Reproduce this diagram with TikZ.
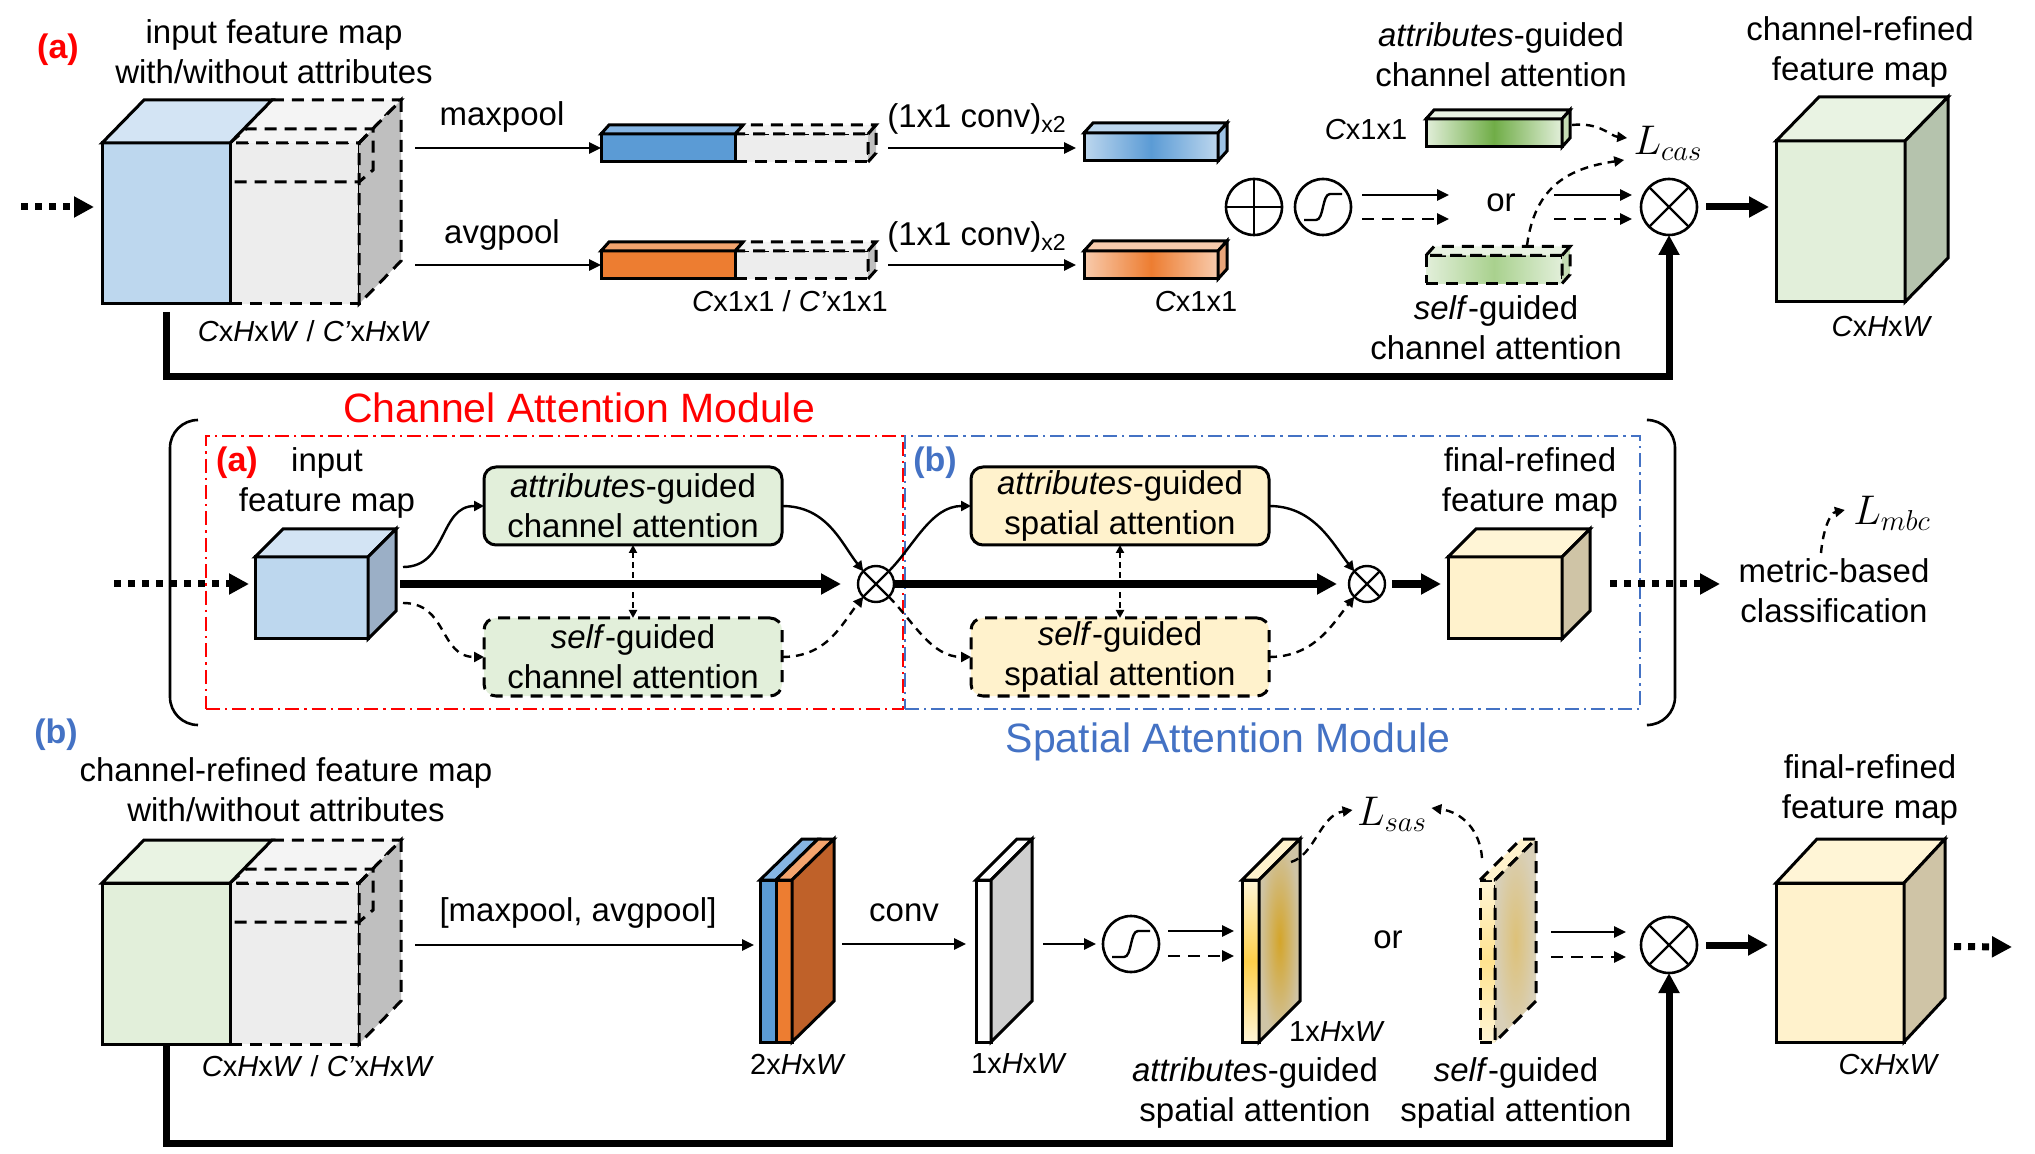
\documentclass[tikz,border=0pt]{standalone}
\usepackage{fontspec}
\setmainfont{Liberation Sans}
\usetikzlibrary{arrows.meta,calc}

\definecolor{cubeblue}{HTML}{BDD7EE}
\definecolor{cubebluetop}{HTML}{D3E4F4}
\definecolor{cubeblueside}{HTML}{9BAFC6}
\definecolor{greyfront}{HTML}{EDEDED}
\definecolor{greytop}{HTML}{F4F4F4}
\definecolor{greyside}{HTML}{BFBFBF}
\definecolor{poolblue}{HTML}{5B9BD5}
\definecolor{poolbluetop}{HTML}{86B5E3}
\definecolor{poolorange}{HTML}{ED7D31}
\definecolor{poolorangetop}{HTML}{F4A46E}
\definecolor{attblue}{HTML}{BDD7EE}
\definecolor{attblueside}{HTML}{9DC3E6}
\definecolor{attorange}{HTML}{F8CBAD}
\definecolor{attorangeside}{HTML}{E9A57A}
\definecolor{slabside}{HTML}{BF6129}
\definecolor{greenfront}{HTML}{E2EFDA}
\definecolor{greentop}{HTML}{E9F3E3}
\definecolor{greenside}{HTML}{B5C3AD}
\definecolor{greenbarside}{HTML}{C5DDB4}
\definecolor{greendeep}{HTML}{70AD47}
\definecolor{greenmid}{HTML}{A9D18E}
\definecolor{yellowfront}{HTML}{FFF2CC}
\definecolor{yellowtop}{HTML}{FFF5D6}
\definecolor{yellowside}{HTML}{CFC4A6}
\definecolor{golddeep}{HTML}{D4A52A}
\definecolor{goldpale}{HTML}{DDC178}
\definecolor{yellowdeep}{HTML}{FFD04A}
\definecolor{yellowmid}{HTML}{FFE38F}
\definecolor{modred}{HTML}{FF0000}
\definecolor{modblue}{HTML}{4472C4}

% top and side faces of a box whose front face is the node #1
\newcommand{\topface}[4]{\draw[#4] (#1.north west) -- ++(#2,#3) -- ($(#1.north east)+(#2,#3)$) -- (#1.north east) -- cycle;}
\newcommand{\sideface}[4]{\draw[#4] (#1.north east) -- ++(#2,#3) -- ($(#1.south east)+(#2,#3)$) -- (#1.south east) -- cycle;}
% sigmoid operator
\newcommand{\sigmoidop}[2]{%
  \node[opcirc] (#1) at (#2) {};
  \draw[line width=1.2pt] ($(#1)+(-19,13)$) -- ($(#1)+(-7,13)$)
    .. controls ($(#1)+(1,13)$) and ($(#1)+(-1,-13)$) .. ($(#1)+(7,-13)$) -- ($(#1)+(19,-13)$);}
% product operator
\newcommand{\crossop}[1]{\draw[line width=1.2pt] (#1.north west) -- (#1.south east) (#1.north east) -- (#1.south west);}

\tikzset{
  blk/.style={draw=black, line width=1.5pt, inner sep=0pt, outer sep=0pt},
  dsh/.style={dash pattern=on 6pt off 4pt},
  dshs/.style={dash pattern=on 4pt off 3pt},
  txt/.style={font=\fontsize{16.5}{20}\selectfont, align=center, inner sep=0pt},
  losstxt/.style={font=\fontsize{20}{24}\selectfont, inner sep=0pt},
  dimtxt/.style={font=\fontsize{14.5}{17}\selectfont, inner sep=0pt},
  tag/.style={font=\bfseries\fontsize{17}{20}\selectfont, inner sep=0pt},
  modtitle/.style={font=\fontsize{20.5}{24}\selectfont, inner sep=0pt},
  opcirc/.style={circle, draw=black, line width=1.3pt, minimum size=28pt, inner sep=0pt, outer sep=0pt, fill=white},
  smallop/.style={opcirc, minimum size=18pt, line width=1.2pt},
  attbox/.style={blk, rounded corners=6pt, minimum width=149pt, minimum height=39pt, align=center, font=\fontsize{16.5}{20}\selectfont},
  modframe/.style={line width=1.1pt, inner sep=0pt, dash pattern=on 7pt off 2.5pt on 1.2pt off 2.5pt, minimum height=136.5pt},
  thinarr/.style={line width=1.3pt, -{Triangle[length=6pt,width=5.5pt]}},
  curvarr/.style={line width=1.2pt, -{Triangle[length=5pt,width=5pt]}},
  duoarr/.style={line width=1pt, dash pattern=on 3pt off 2pt, {Triangle[length=4pt,width=4pt]}-{Triangle[length=4pt,width=4pt]}},
  thickarr/.style={line width=3.5pt, -{Triangle[length=10pt,width=10pt]}},
  dotarr/.style={line width=3.5pt, dash pattern=on 3.5pt off 3.5pt, -{Triangle[length=10pt,width=10pt]}},
}

\begin{document}
\begin{tikzpicture}[x=0.5pt, y=-0.5pt]
\useasboundingbox (0,0) rectangle (2035,1154);

%%% (a) channel attention module
\node[tag, text=modred] (tagCa) at (58,50) {(a)};
\node[txt] (inCaption) at (274,52) {input feature map\\with/without attributes};
\node[blk, dsh, fill=greyfront, minimum width=64.5pt, minimum height=80.5pt] (inExtra) at (294.5,223.5) {};
\topface{inExtra}{42}{-43}{blk, dsh, fill=greytop}
\sideface{inExtra}{42}{-43}{blk, dsh, fill=greyside}
\draw[blk, dsh] (inExtra.north west) -- ++(16,-14) -- ++(127,0) -- ++(0,41) -- ++(-14,12) -- ++(-129,0);
\draw[blk, dsh] (inExtra.north east) -- ++(14,-14);
\node[blk, fill=cubeblue, minimum width=64pt, minimum height=80.5pt] (inMap) at (166,223.5) {};
\topface{inMap}{42}{-43}{blk, fill=cubebluetop}
\node[dimtxt] (inDim) at (314,331) {\textit{C}x\textit{H}x\textit{W} / \textit{C’}x\textit{H}x\textit{W}};
\coordinate (inFrom) at (21,207);
\draw[dotarr, shorten >=4pt] (inFrom) -- (inMap.west |- inFrom);

% pooled vectors
\node[blk, dsh, fill=greyfront, minimum width=66.5pt, minimum height=14pt] (maxExtra) at (801.5,148) {};
\topface{maxExtra}{8}{-9}{blk, dsh, fill=greytop}
\sideface{maxExtra}{8}{-9}{blk, dsh, fill=greyside}
\node[blk, fill=poolblue, minimum width=67pt, minimum height=14pt, anchor=east] (maxBar) at (maxExtra.west) {};
\topface{maxBar}{8}{-9}{blk, fill=poolbluetop}
\node[blk, dsh, fill=greyfront, minimum width=66.5pt, minimum height=14pt] (avgExtra) at (801.5,265) {};
\topface{avgExtra}{8}{-9}{blk, dsh, fill=greytop}
\sideface{avgExtra}{8}{-9}{blk, dsh, fill=greyside}
\node[blk, fill=poolorange, minimum width=67pt, minimum height=14pt, anchor=east] (avgBar) at (avgExtra.west) {};
\topface{avgBar}{8}{-9}{blk, fill=poolorangetop}
\node[dimtxt] (poolDim) at (790,301) {\textit{C}x1x1 / \textit{C’}x1x1};

\coordinate (maxFrom) at (415,148);
\coordinate (avgFrom) at (415,265);
\draw[thinarr] (maxFrom) -- (maxBar.west);
\draw[thinarr] (avgFrom) -- (avgBar.west);
\node[txt] (maxLbl) at (502,117) {maxpool};
\node[txt] (avgLbl) at (502,235) {avgpool};

% shared 1x1 conv
\node[blk, left color=attblue, right color=attblue, middle color=poolblue, minimum width=67pt, minimum height=14pt] (maxAtt) at (1151,147) {};
\topface{maxAtt}{9}{-10}{blk, fill=attblue}
\sideface{maxAtt}{9}{-10}{blk, fill=attblueside}
\node[blk, left color=attorange, right color=attorange, middle color=poolorange, minimum width=67pt, minimum height=14pt] (avgAtt) at (1151,265) {};
\topface{avgAtt}{9}{-10}{blk, fill=attorange}
\sideface{avgAtt}{9}{-10}{blk, fill=attorangeside}
\node[dimtxt] (attDim) at (1196,302) {\textit{C}x1x1};
\coordinate (convFromA) at (888,148);
\coordinate (convFromB) at (888,265);
\draw[thinarr, shorten >=4pt] (convFromA) -- (maxAtt.west |- convFromA);
\draw[thinarr, shorten >=4pt] (convFromB) -- (avgAtt.west |- convFromB);
\node[txt] (convLblA) at (977,119) {(1x1 conv)\textsubscript{x2}};
\node[txt] (convLblB) at (977,237) {(1x1 conv)\textsubscript{x2}};

% sum, sigmoid, product
\node[opcirc] (sumOp) at (1254,207) {};
\draw[line width=1.2pt] (sumOp.north) -- (sumOp.south) (sumOp.west) -- (sumOp.east);
\sigmoidop{sigCa}{1323,207}
\node[opcirc] (mulCa) at (1669,207) {};
\crossop{mulCa}
\coordinate (orInA) at (1449,195);
\coordinate (orInB) at (1449,219);
\coordinate (orOutA) at (1554,195);
\coordinate (orOutB) at (1554,219);
\draw[thinarr] ([shift={(11,-12)}]sigCa.east) -- (orInA);
\draw[thinarr, dsh] ([shift={(11,12)}]sigCa.east) -- (orInB);
\draw[thinarr] (orOutA) -- ([shift={(-9,-12)}]mulCa.west);
\draw[thinarr, dsh] (orOutB) -- ([shift={(-9,12)}]mulCa.west);
\node[txt] (orCa) at (1501,203) {or};

% channel attention vectors
\node[txt] (attCaLbl) at (1501,55) {\textit{attributes}-guided\\channel attention};
\node[dimtxt] (attCaDim) at (1366,130) {\textit{C}x1x1};
\node[blk, left color=greenfront, right color=greenfront, middle color=greendeep, minimum width=68pt, minimum height=14pt] (attCa) at (1494,133) {};
\topface{attCa}{8}{-9}{blk, fill=greentop}
\sideface{attCa}{8}{-9}{blk, fill=greenbarside}
\node[blk, dsh, left color=greenfront, right color=greenfront, middle color=greenmid, minimum width=68pt, minimum height=14pt] (selfCa) at (1494,269.5) {};
\topface{selfCa}{8}{-9}{blk, dsh, fill=greentop}
\sideface{selfCa}{8}{-9}{blk, dsh, fill=greenbarside}
\node[txt] (selfCaLbl) at (1496,328) {\textit{self}-guided\\channel attention};
\node[losstxt] (lcas) at (1668,143) {$L_{cas}$};
\draw[curvarr, dshs] ([shift={(10,-8)}]attCa.east) .. controls (1600,122) and (1610,136) .. ([shift={(-6,-5)}]lcas.west);
\draw[curvarr, dshs] ([shift={(33,-10)}]selfCa.north) .. controls (1535,185) and (1570,168) .. ([shift={(-9,17)}]lcas.west);

% channel-refined map
\node[txt] (chCaption) at (1860,52) {channel-refined\\feature map};
\node[blk, fill=greenfront, minimum width=64.5pt, minimum height=80.5pt] (chMap) at (1840.5,221.5) {};
\topface{chMap}{43}{-44}{blk, fill=greentop}
\sideface{chMap}{43}{-44}{blk, fill=greenside}
\node[dimtxt] (chDim) at (1882,327) {\textit{C}x\textit{H}x\textit{W}};
\draw[thickarr, shorten <=4.5pt, shorten >=3.5pt] (mulCa.east) -- (chMap.west |- mulCa);
\draw[thickarr, shorten <=4pt] (inMap.south) -- ++(0,73) -| (mulCa.south);

%%% overview
\node[modtitle, text=modred] (caTitle) at (579,408) {Channel Attention Module};
\node[modtitle, text=modblue] (saTitle) at (1228,742) {Spatial Attention Module};
\node[modframe, draw=modred, minimum width=348.5pt] (caFrame) at (554.5,572.5) {};
\node[modframe, draw=modblue, minimum width=367.5pt] (saFrame) at (1272.5,572.5) {};
\draw[line width=1.3pt, rounded corners=14pt] (198,420) -- (170,420) -- (170,725) -- (198,725);
\draw[line width=1.3pt, rounded corners=14pt] (1649,420) -- (1675,420) -- (1675,725) -- (1649,725);

\node[tag, text=modred] (tagCaMid) at (237,463) {(a)};
\node[txt] (midCaption) at (327,483) {input\\feature map};
\node[blk, fill=cubeblue, minimum width=56.5pt, minimum height=41pt] (midIn) at (311.5,598) {};
\topface{midIn}{28}{-28}{blk, fill=cubebluetop}
\sideface{midIn}{28}{-28}{blk, fill=cubeblueside}
\coordinate (midFrom) at (114,584);
\draw[dotarr, shorten >=3pt] (midFrom) -- (midIn.west |- midFrom);

\node[attbox, fill=greenfront] (attCaBox) at (633,506) {\textit{attributes}-guided\\channel attention};
\node[attbox, dsh, fill=greenfront] (selfCaBox) at (633,657) {\textit{self}-guided\\channel attention};
\node[smallop] (mulCaMid) at (876,584) {};
\crossop{mulCaMid}
\draw[thickarr, line width=4pt, shorten >=8.5pt] ([shift={(32,-14)}]midIn.east) -- (mulCaMid.west);
\coordinate (midUp) at ([shift={(35,-31)}]midIn.east);
\coordinate (midDown) at ([shift={(35,5)}]midIn.east);
\draw[curvarr] (midUp) .. controls ($(midUp)+(45,0)$) and ($(attCaBox.west)+(-45,0)$) .. (attCaBox.west);
\draw[curvarr, dshs] (midDown) .. controls ($(midDown)+(45,0)$) and ($(selfCaBox.west)+(-45,0)$) .. (selfCaBox.west);
\draw[curvarr] (attCaBox.east) .. controls ($(attCaBox.east)+(45,0)$) and ($(mulCaMid.north west)+(-22,-28)$) .. (mulCaMid.north west);
\draw[curvarr, dshs] (selfCaBox.east) .. controls ($(selfCaBox.east)+(45,0)$) and ($(mulCaMid.south west)+(-22,28)$) .. (mulCaMid.south west);
\draw[duoarr] (attCaBox.south) -- (selfCaBox.north);

\node[tag, text=modblue] (tagSaMid) at (935,463) {(b)};
\node[attbox, fill=yellowfront] (attSaBox) at (1120,506) {\textit{attributes}-guided\\spatial attention};
\node[attbox, dsh, fill=yellowfront] (selfSaBox) at (1120,657) {\textit{self}-guided\\spatial attention};
\node[smallop] (mulSaMid) at (1367,584) {};
\crossop{mulSaMid}
\draw[thickarr, line width=4pt, shorten >=6pt] (mulCaMid.east) -- (mulSaMid.west);
\draw[curvarr] (mulCaMid.north east) .. controls ($(mulCaMid.north east)+(25,-25)$) and ($(attSaBox.west)+(-40,0)$) .. (attSaBox.west);
\draw[curvarr, dshs] (mulCaMid.south east) .. controls ($(mulCaMid.south east)+(25,25)$) and ($(selfSaBox.west)+(-40,0)$) .. (selfSaBox.west);
\draw[curvarr] (attSaBox.east) .. controls ($(attSaBox.east)+(45,0)$) and ($(mulSaMid.north west)+(-22,-28)$) .. (mulSaMid.north west);
\draw[curvarr, dshs] (selfSaBox.east) .. controls ($(selfSaBox.east)+(45,0)$) and ($(mulSaMid.south west)+(-22,28)$) .. (mulSaMid.south west);
\draw[duoarr] (attSaBox.south) -- (selfSaBox.north);

\node[txt] (finMidCaption) at (1530,483) {final-refined\\feature map};
\node[blk, fill=yellowfront, minimum width=57pt, minimum height=41pt] (finMid) at (1505,598) {};
\topface{finMid}{28}{-28}{blk, fill=yellowtop}
\sideface{finMid}{28}{-28}{blk, fill=yellowside}
\draw[thickarr, line width=4pt, shorten <=3.5pt, shorten >=3.5pt] (mulSaMid.east) -- (finMid.west |- mulSaMid);
\coordinate (toMetric) at (1720,584);
\draw[dotarr] ([shift={(48,-14)}]finMid.east) -- (toMetric);
\node[txt] (metricLbl) at (1834,591) {metric-based\\classification};
\node[losstxt] (lmbc) at (1892,513) {$L_{mbc}$};
\coordinate (mbcFrom) at (1821,553);
\draw[curvarr, dshs] (mbcFrom) .. controls (1823,530) and (1830,513) .. ([shift={(-8,-3)}]lmbc.west);

%%% (b) spatial attention module
\node[tag, text=modblue] (tagSa) at (56,735) {(b)};
\node[txt] (chInCaption) at (286,790) {channel-refined feature map\\with/without attributes};
\begin{scope}[shift={(0,740)}]
\node[blk, dsh, fill=greyfront, minimum width=64.5pt, minimum height=80.5pt] (chExtra) at (294.5,223.5) {};
\topface{chExtra}{42}{-43}{blk, dsh, fill=greytop}
\sideface{chExtra}{42}{-43}{blk, dsh, fill=greyside}
\draw[blk, dsh] (chExtra.north west) -- ++(16,-14) -- ++(127,0) -- ++(0,41) -- ++(-14,12) -- ++(-129,0);
\draw[blk, dsh] (chExtra.north east) -- ++(14,-14);
\node[blk, fill=greenfront, minimum width=64pt, minimum height=80.5pt] (chIn) at (166,223.5) {};
\topface{chIn}{42}{-43}{blk, fill=greentop}
\end{scope}
\node[dimtxt] (chInDim) at (318,1066) {\textit{C}x\textit{H}x\textit{W} / \textit{C’}x\textit{H}x\textit{W}};

% pooled maps
\node[blk, fill=poolblue, minimum width=8pt, minimum height=81pt] (catMax) at (768,961) {};
\node[blk, fill=poolorange, minimum width=8pt, minimum height=81pt, anchor=west] (catAvg) at (catMax.east) {};
\topface{catMax}{42}{-41}{blk, fill=poolbluetop}
\topface{catAvg}{42}{-41}{blk, fill=poolorangetop}
\sideface{catAvg}{42}{-41}{blk, fill=slabside}
\node[dimtxt] (catDim) at (798,1064) {2x\textit{H}x\textit{W}};
\coordinate (poolFrom) at (415,945);
\draw[thinarr, shorten >=3pt] (poolFrom) -- (catMax.west |- poolFrom);
\node[txt] (poolLbl) at (578,913) {[maxpool, avgpool]};

% conv map
\node[blk, fill=white, minimum width=7.5pt, minimum height=81pt] (convMap) at (983.5,961) {};
\topface{convMap}{41}{-41}{blk, fill=white}
\sideface{convMap}{41}{-41}{blk, fill=greyside!75}
\node[dimtxt] (convDim) at (1019,1064) {1x\textit{H}x\textit{W}};
\coordinate (convFrom) at (842,944);
\draw[thinarr, shorten >=5pt] (convFrom) -- (convMap.west |- convFrom);
\node[txt] (convLbl) at (904,913) {conv};

% sigmoid
\sigmoidop{sigSa}{1131,944}
\coordinate (sigFrom) at (1043,944);
\draw[thinarr, shorten >=3.5pt] (sigFrom) -- (sigSa.west);

% spatial attention maps
\node[blk, top color=yellowtop, bottom color=yellowtop, middle color=yellowdeep, minimum width=8.5pt, minimum height=81pt] (attSlab) at (1250.5,961) {};
\topface{attSlab}{41}{-41}{blk, fill=yellowfront}
\sideface{attSlab}{41}{-41}{blk, inner color=golddeep, outer color=yellowside}
\node[dimtxt] (attSlabDim) at (1337,1032) {1x\textit{H}x\textit{W}};
\node[txt] (attSaLbl) at (1255,1093) {\textit{attributes}-guided\\spatial attention};
\draw[thinarr] ([shift={(9,-13)}]sigSa.east) -- ([shift={(-8,-30)}]attSlab.west);
\draw[thinarr, dsh] ([shift={(9,12)}]sigSa.east) -- ([shift={(-8,-5)}]attSlab.west);
\node[txt] (orSa) at (1388,940) {or};

\node[blk, dsh, top color=yellowtop, bottom color=yellowtop, middle color=yellowmid, minimum width=7.5pt, minimum height=81pt] (selfSlab) at (1487.5,961) {};
\topface{selfSlab}{41}{-41}{blk, dsh, fill=yellowfront}
\sideface{selfSlab}{41}{-41}{blk, dsh, inner color=goldpale, outer color=yellowside!80}
\node[txt] (selfSaLbl) at (1516,1093) {\textit{self}-guided\\spatial attention};

\node[losstxt] (lsas) at (1392,814) {$L_{sas}$};
\draw[curvarr, dshs] ([shift={(32,-18)}]attSlab.north east) .. controls (1315,855) and (1320,815) .. ([shift={(-4,-4)}]lsas.west);
\draw[curvarr, dshs] ([shift={(2,-22)}]selfSlab.north west) .. controls (1480,830) and (1462,812) .. ([shift={(4,-6)}]lsas.east);

% product and final map
\node[opcirc] (mulSa) at (1669,945) {};
\crossop{mulSa}
\draw[thinarr] ([shift={(56,-29)}]selfSlab.east) -- ([shift={(-15,-13)}]mulSa.west);
\draw[thinarr, dsh] ([shift={(56,-4)}]selfSlab.east) -- ([shift={(-15,12)}]mulSa.west);
\node[txt] (finCaption) at (1870,790) {final-refined\\feature map};
\node[blk, fill=yellowfront, minimum width=64pt, minimum height=79.5pt] (finMap) at (1840,962.5) {};
\topface{finMap}{41}{-44}{blk, fill=yellowtop}
\sideface{finMap}{41}{-44}{blk, fill=yellowside}
\node[dimtxt] (finDim) at (1889,1065) {\textit{C}x\textit{H}x\textit{W}};
\draw[thickarr, shorten <=4.5pt, shorten >=4pt] (mulSa.east) -- (finMap.west |- mulSa);
\coordinate (finOut) at (2012,947);
\draw[dotarr] ([shift={(50,-16)}]finMap.east) -- (finOut);
\draw[thickarr] (chIn.south) -- ++(0,99) -| (mulSa.south);
\end{tikzpicture}
\end{document}
